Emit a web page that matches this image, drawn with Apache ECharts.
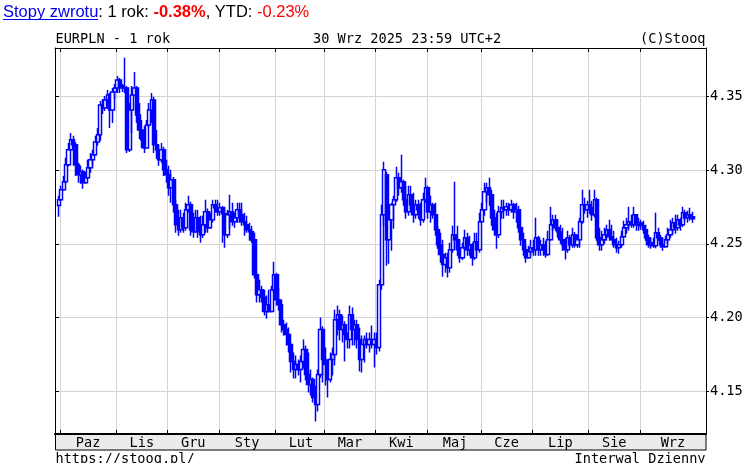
<!DOCTYPE html>
<html><head><meta charset="utf-8">
<script src="https://cdn.jsdelivr.net/npm/echarts@6/dist/echarts.min.js"></script>
<style>html,body{margin:0;padding:0;background:#fff}#c{width:742px;height:463px}</style>
</head><body><div id="c"></div>
<script>
const monthNames = ['Sty','Lut','Mar','Kwi','Maj','Cze','Lip','Sie','Wrz','Paz','Lis','Gru'];
const yTicks = [4.15, 4.20, 4.25, 4.30, 4.35];
const holidays = ['2024-12-25', '2025-04-18'];

const opens = [
4.2760,4.2800,4.2867,4.2922,4.3037,4.3139,4.3207,4.3173,4.3037,4.2969,
4.2990,4.2915,4.2949,4.3017,4.3071,4.3105,4.3193,4.3241,4.3444,4.3424,
4.3478,4.3512,4.3410,4.3532,4.3559,4.3614,4.3573,4.3559,4.3559,4.3139,
4.3410,4.3512,4.3559,4.3376,4.3274,4.3207,4.3152,4.3308,4.3410,4.3478,
4.3173,4.3139,4.3071,4.3139,4.3003,4.2969,4.2881,4.2935,4.2766,4.2630,
4.2596,4.2678,4.2610,4.2732,4.2766,4.2596,4.2583,4.2678,4.2583,4.2562,
4.2630,4.2718,4.2610,4.2664,4.2766,4.2745,4.2718,4.2745,4.2705,4.2562,
4.2698,4.2718,4.2651,4.2678,4.2732,4.2698,4.2651,4.2630,4.2596,4.2583,
4.2528,4.2291,4.2155,4.2189,4.2135,4.2040,4.2087,4.2040,4.2189,4.2291,
4.2121,4.2087,4.1951,4.1918,4.1884,4.1816,4.1700,4.1646,4.1680,4.1646,
4.1700,4.1782,4.1612,4.1544,4.1578,4.1456,4.1409,4.1612,4.1918,4.1714,
4.1680,4.1578,4.1714,4.1748,4.1985,4.2019,4.1918,4.1951,4.1884,4.1850,
4.2019,4.1918,4.1951,4.1850,4.1714,4.1816,4.1850,4.1816,4.1850,4.1816,
4.1850,4.1795,4.2223,4.2698,4.2969,4.2528,4.2664,4.2766,4.2800,4.2949,
4.2881,4.2922,4.2800,4.2718,4.2834,4.2766,4.2698,4.2766,4.2732,4.2664,
4.2800,4.2881,4.2718,4.2766,4.2698,4.2596,4.2494,4.2427,4.2359,4.2406,
4.2338,4.2460,4.2562,4.2528,4.2460,4.2406,4.2474,4.2542,4.2460,4.2494,
4.2406,4.2515,4.2460,4.2651,4.2732,4.2854,4.2881,4.2834,4.2678,4.2596,
4.2562,4.2718,4.2745,4.2732,4.2752,4.2732,4.2766,4.2718,4.2732,4.2610,
4.2528,4.2460,4.2406,4.2447,4.2474,4.2460,4.2542,4.2460,4.2494,4.2460,
4.2427,4.2528,4.2630,4.2664,4.2610,4.2583,4.2528,4.2494,4.2460,4.2542,
4.2494,4.2562,4.2494,4.2528,4.2651,4.2766,4.2732,4.2766,4.2745,4.2698,
4.2800,4.2542,4.2494,4.2528,4.2562,4.2596,4.2549,4.2528,4.2494,4.2474,
4.2494,4.2549,4.2610,4.2630,4.2651,4.2630,4.2698,4.2630,4.2644,4.2623,
4.2596,4.2542,4.2494,4.2508,4.2488,4.2576,4.2542,4.2494,4.2481,4.2528,
4.2562,4.2596,4.2644,4.2610,4.2664,4.2630,4.2711,4.2678,4.2698,4.2684
];
const closes = [
4.2800,4.2867,4.2922,4.3037,4.3139,4.3207,4.3173,4.3037,4.2969,4.2990,
4.2915,4.2949,4.3017,4.3071,4.3105,4.3193,4.3241,4.3444,4.3424,4.3478,
4.3512,4.3410,4.3532,4.3559,4.3614,4.3573,4.3559,4.3559,4.3139,4.3410,
4.3512,4.3559,4.3376,4.3274,4.3207,4.3152,4.3308,4.3410,4.3478,4.3173,
4.3139,4.3071,4.3139,4.3003,4.2969,4.2881,4.2935,4.2766,4.2630,4.2596,
4.2678,4.2610,4.2732,4.2766,4.2596,4.2583,4.2678,4.2583,4.2562,4.2630,
4.2718,4.2610,4.2664,4.2766,4.2745,4.2718,4.2745,4.2705,4.2562,4.2698,
4.2718,4.2651,4.2678,4.2732,4.2698,4.2651,4.2630,4.2596,4.2583,4.2528,
4.2291,4.2155,4.2189,4.2135,4.2040,4.2087,4.2040,4.2189,4.2291,4.2121,
4.2087,4.1951,4.1918,4.1884,4.1816,4.1700,4.1646,4.1680,4.1646,4.1700,
4.1782,4.1612,4.1544,4.1578,4.1456,4.1409,4.1612,4.1918,4.1714,4.1680,
4.1578,4.1714,4.1748,4.1985,4.2019,4.1918,4.1951,4.1884,4.1850,4.2019,
4.1918,4.1951,4.1850,4.1714,4.1816,4.1850,4.1816,4.1850,4.1816,4.1850,
4.1795,4.2223,4.2698,4.3003,4.2528,4.2664,4.2766,4.2800,4.2949,4.2881,
4.2922,4.2800,4.2718,4.2834,4.2766,4.2698,4.2766,4.2732,4.2664,4.2800,
4.2881,4.2718,4.2766,4.2698,4.2596,4.2494,4.2427,4.2359,4.2406,4.2338,
4.2460,4.2562,4.2528,4.2460,4.2406,4.2474,4.2542,4.2460,4.2494,4.2406,
4.2515,4.2460,4.2651,4.2732,4.2854,4.2881,4.2834,4.2678,4.2596,4.2562,
4.2718,4.2745,4.2732,4.2752,4.2732,4.2766,4.2718,4.2732,4.2610,4.2528,
4.2460,4.2406,4.2447,4.2474,4.2460,4.2542,4.2460,4.2494,4.2460,4.2427,
4.2528,4.2630,4.2664,4.2610,4.2583,4.2528,4.2494,4.2460,4.2542,4.2494,
4.2562,4.2494,4.2528,4.2651,4.2766,4.2732,4.2766,4.2745,4.2698,4.2800,
4.2542,4.2494,4.2528,4.2562,4.2596,4.2549,4.2528,4.2494,4.2474,4.2494,
4.2549,4.2610,4.2630,4.2651,4.2630,4.2698,4.2630,4.2644,4.2623,4.2596,
4.2542,4.2494,4.2508,4.2488,4.2576,4.2542,4.2494,4.2481,4.2528,4.2562,
4.2596,4.2644,4.2610,4.2664,4.2630,4.2711,4.2678,4.2698,4.2684,4.2671
];
const highs = [
4.2827,4.2895,4.2962,4.3085,4.3186,4.3254,4.3234,4.3190,4.3051,4.3030,
4.3005,4.2990,4.3071,4.3118,4.3139,4.3234,4.3288,4.3471,4.3485,4.3505,
4.3546,4.3525,4.3559,4.3586,4.3641,4.3627,4.3586,4.3765,4.3573,4.3458,
4.3573,4.3668,4.3573,4.3458,4.3342,4.3302,4.3342,4.3458,4.3525,4.3500,
4.3274,4.3166,4.3186,4.3160,4.3071,4.3030,4.3003,4.2955,4.2800,4.2732,
4.2732,4.2711,4.2779,4.2827,4.2786,4.2711,4.2732,4.2732,4.2691,4.2691,
4.2800,4.2740,4.2711,4.2800,4.2800,4.2800,4.2779,4.2759,4.2752,4.2732,
4.2834,4.2779,4.2711,4.2779,4.2779,4.2779,4.2711,4.2691,4.2644,4.2623,
4.2576,4.2310,4.2257,4.2216,4.2189,4.2149,4.2189,4.2216,4.2379,4.2304,
4.2203,4.2121,4.1985,4.1965,4.1931,4.1829,4.1761,4.1741,4.1714,4.1741,
4.1850,4.1809,4.1761,4.1646,4.1592,4.1538,4.1646,4.1999,4.1940,4.1795,
4.1714,4.1761,4.1795,4.2053,4.2081,4.2053,4.2013,4.1975,4.1897,4.2081,
4.2067,4.1985,4.1985,4.1931,4.1877,4.1877,4.1897,4.1897,4.1945,4.1897,
4.1897,4.2257,4.2766,4.3058,4.2990,4.2732,4.2779,4.2827,4.3024,4.2983,
4.3105,4.2935,4.2895,4.2895,4.2895,4.2847,4.2800,4.2800,4.2779,4.2847,
4.2949,4.2895,4.2827,4.2779,4.2779,4.2623,4.2576,4.2528,4.2440,4.2440,
4.2508,4.2623,4.2922,4.2623,4.2528,4.2508,4.2596,4.2576,4.2556,4.2508,
4.2576,4.2576,4.2711,4.2779,4.2915,4.2915,4.2949,4.2867,4.2732,4.2711,
4.2759,4.2800,4.2800,4.2779,4.2779,4.2800,4.2779,4.2779,4.2759,4.2623,
4.2576,4.2488,4.2488,4.2528,4.2528,4.2678,4.2556,4.2528,4.2542,4.2522,
4.2590,4.2752,4.2698,4.2698,4.2657,4.2630,4.2610,4.2542,4.2590,4.2560,
4.2610,4.2580,4.2562,4.2678,4.2867,4.2813,4.2793,4.2867,4.2793,4.2867,
4.2813,4.2610,4.2590,4.2610,4.2630,4.2664,4.2630,4.2590,4.2542,4.2522,
4.2590,4.2657,4.2678,4.2752,4.2698,4.2752,4.2678,4.2678,4.2664,4.2657,
4.2630,4.2562,4.2542,4.2542,4.2711,4.2610,4.2562,4.2542,4.2556,4.2610,
4.2664,4.2678,4.2698,4.2698,4.2678,4.2752,4.2732,4.2725,4.2745,4.2718
];
const lows = [
4.2684,4.2790,4.2861,4.2910,4.3025,4.3132,4.3030,4.2962,4.2915,4.2908,
4.2874,4.2908,4.2942,4.2983,4.3030,4.3098,4.3166,4.3200,4.3383,4.3403,
4.3417,4.3288,4.3322,4.3485,4.3525,4.3525,4.3532,4.3525,4.3118,4.3125,
4.3254,4.3505,4.3322,4.3213,4.3152,4.3118,4.3146,4.3290,4.3322,4.3118,
4.3078,4.3030,4.3051,4.2962,4.2915,4.2827,4.2779,4.2711,4.2576,4.2556,
4.2575,4.2576,4.2590,4.2711,4.2556,4.2542,4.2576,4.2542,4.2508,4.2540,
4.2576,4.2576,4.2603,4.2645,4.2711,4.2691,4.2691,4.2508,4.2474,4.2540,
4.2603,4.2623,4.2610,4.2644,4.2644,4.2623,4.2556,4.2576,4.2522,4.2508,
4.2264,4.2101,4.2101,4.2101,4.2013,4.1992,4.2033,4.2033,4.2169,4.2081,
4.2047,4.1897,4.1877,4.1809,4.1761,4.1626,4.1585,4.1585,4.1605,4.1558,
4.1653,4.1572,4.1490,4.1470,4.1422,4.1293,4.1361,4.1590,4.1558,4.1538,
4.1456,4.1558,4.1605,4.1673,4.1877,4.1843,4.1829,4.1700,4.1789,4.1789,
4.1809,4.1809,4.1789,4.1632,4.1626,4.1694,4.1789,4.1761,4.1789,4.1660,
4.1748,4.1768,4.2189,4.2623,4.2352,4.2365,4.2454,4.2603,4.2785,4.2827,
4.2847,4.2759,4.2671,4.2691,4.2725,4.2644,4.2671,4.2671,4.2623,4.2644,
4.2779,4.2671,4.2644,4.2671,4.2556,4.2467,4.2372,4.2277,4.2304,4.2271,
4.2304,4.2440,4.2467,4.2420,4.2372,4.2390,4.2455,4.2420,4.2420,4.2352,
4.2390,4.2420,4.2440,4.2644,4.2691,4.2779,4.2759,4.2623,4.2556,4.2467,
4.2540,4.2671,4.2671,4.2691,4.2691,4.2711,4.2671,4.2644,4.2576,4.2488,
4.2420,4.2372,4.2399,4.2420,4.2420,4.2420,4.2420,4.2420,4.2420,4.2406,
4.2420,4.2522,4.2590,4.2590,4.2542,4.2501,4.2454,4.2393,4.2440,4.2474,
4.2474,4.2474,4.2474,4.2474,4.2637,4.2705,4.2678,4.2705,4.2657,4.2680,
4.2522,4.2454,4.2454,4.2501,4.2522,4.2522,4.2522,4.2474,4.2440,4.2433,
4.2474,4.2542,4.2569,4.2590,4.2610,4.2610,4.2590,4.2590,4.2596,4.2569,
4.2522,4.2474,4.2467,4.2474,4.2470,4.2522,4.2474,4.2454,4.2474,4.2501,
4.2542,4.2569,4.2569,4.2590,4.2590,4.2615,4.2657,4.2644,4.2657,4.2644
];

// trading-day categories: one slot before the first bar, five empty slots after the last
const totalSlots = 266;
const categories = [];
(function () {
  const d = new Date(Date.UTC(2024, 8, 27));
  while (categories.length < totalSlots) {
    const wd = d.getUTCDay();
    const s = d.toISOString().slice(0, 10);
    if (wd !== 0 && wd !== 6 && holidays.indexOf(s) < 0) categories.push(s);
    d.setUTCDate(d.getUTCDate() + 1);
  }
})();
const rows = closes.map((c, i) => [categories[i + 1], opens[i], c, lows[i], highs[i]]);

const lastIdx = closes.length;
const monthStarts = [];
for (let k = 1; k <= lastIdx; k++) {
  if (categories[k].slice(0, 7) !== categories[k - 1].slice(0, 7)) monthStarts.push(k);
}
const startSet = new Set(monthStarts);
const labelSet = new Set(monthStarts.map((s, j) =>
  Math.floor((s + (j + 1 < monthStarts.length ? monthStarts[j + 1] : totalSlots)) / 2)));

const MONO = '"DejaVu Sans Mono", monospace';
const FS = 13.6;
const chart = echarts.init(document.getElementById('c'), null, {renderer: 'canvas'});
chart.setOption({
  animation: false,
  backgroundColor: '#ffffff',
  grid: {left: 55, right: 36, top: 48, bottom: 29, outerBoundsMode: 'none', containLabel: false},
  xAxis: [{
    type: 'category', data: categories, boundaryGap: true, position: 'bottom',
    axisLine: {show: true, onZero: false, lineStyle: {color: '#000', width: 2}},
    axisTick: {show: true, inside: true, length: 4, interval: (i) => startSet.has(i), lineStyle: {color: '#000'}},
    splitLine: {show: true, interval: (i) => startSet.has(i), lineStyle: {color: '#d4d4d4', width: 1}},
    axisLabel: {
      show: true, interval: (i) => labelSet.has(i), margin: 2,
      formatter: (v) => monthNames[parseInt(v.slice(5, 7), 10) - 1],
      color: '#000', fontFamily: MONO, fontSize: FS, lineHeight: 14
    }
  }, {
    type: 'category', data: categories, boundaryGap: true, position: 'top',
    axisLine: {show: true, onZero: false, lineStyle: {color: '#000', width: 1}},
    axisTick: {show: true, inside: true, length: 4, interval: (i) => startSet.has(i), lineStyle: {color: '#000'}},
    splitLine: {show: false}, axisLabel: {show: false}
  }],
  yAxis: [{
    type: 'value', position: 'right', min: 4.1208, max: 4.3831, scale: true,
    axisLine: {show: true, onZero: false, lineStyle: {color: '#000', width: 1}},
    axisTick: {show: true, inside: false, length: 3, customValues: yTicks, lineStyle: {color: '#000'}},
    splitLine: {show: true, lineStyle: {color: '#d4d4d4', width: 1}},
    axisLabel: {show: true, customValues: yTicks, margin: 4, formatter: (v) => v.toFixed(2),
      color: '#000', fontFamily: MONO, fontSize: FS}
  }, {
    type: 'value', position: 'left', min: 4.1208, max: 4.3831, scale: true,
    axisLine: {show: true, onZero: false, lineStyle: {color: '#000', width: 1}},
    axisTick: {show: true, inside: true, length: 4, customValues: yTicks, lineStyle: {color: '#000'}},
    splitLine: {show: false}, axisLabel: {show: false}
  }],
  graphic: [
    {type: 'rect', z: -1, shape: {x: 55.5, y: 434, width: 650.5, height: 16},
     style: {fill: '#ebebeb', stroke: '#000', lineWidth: 1}},
    {type: 'text', x: 3, y: 12, style: {
      text: '{a|Stopy zwrotu}{b|: 1 rok: }{c|-0.38%}{b|, YTD: }{d|-0.23%}',
      align: 'left', verticalAlign: 'middle', textAlign: 'left', textVerticalAlign: 'middle',
      rich: {
        a: {fill: '#0000ee', fontFamily: '"Liberation Sans", Arial', fontSize: 16.5},
        b: {fill: '#000000', fontFamily: '"Liberation Sans", Arial', fontSize: 16.5},
        c: {fill: '#ff0000', fontFamily: '"Liberation Sans", Arial', fontSize: 16.5, fontWeight: 'bold'},
        d: {fill: '#ff0000', fontFamily: '"Liberation Sans", Arial', fontSize: 16.5}
      }}},
    {type: 'line', shape: {x1: 3, y1: 19.5, x2: 98, y2: 19.5}, style: {stroke: '#0000ee', lineWidth: 1}},
    {type: 'text', x: 55.5, y: 39, style: {text: 'EURPLN - 1 rok', fill: '#000', font: FS + 'px ' + MONO,
      align: 'left', verticalAlign: 'middle', textAlign: 'left', textVerticalAlign: 'middle'}},
    {type: 'text', x: 313, y: 39, style: {text: '30 Wrz 2025 23:59 UTC+2', fill: '#000', font: FS + 'px ' + MONO,
      align: 'left', verticalAlign: 'middle', textAlign: 'left', textVerticalAlign: 'middle'}},
    {type: 'text', x: 705.5, y: 39, style: {text: '(C)Stooq', fill: '#000', font: FS + 'px ' + MONO,
      align: 'right', verticalAlign: 'middle', textAlign: 'right', textVerticalAlign: 'middle'}},
    {type: 'text', x: 55.5, y: 459, style: {text: 'https://stooq.pl/', fill: '#000', font: FS + 'px ' + MONO,
      align: 'left', verticalAlign: 'middle', textAlign: 'left', textVerticalAlign: 'middle'}},
    {type: 'text', x: 705.5, y: 459, style: {text: 'Interwal Dzienny', fill: '#000', font: FS + 'px ' + MONO,
      align: 'right', verticalAlign: 'middle', textAlign: 'right', textVerticalAlign: 'middle'}}
  ],
  series: [{
    type: 'candlestick', xAxisIndex: 0, yAxisIndex: 0,
    dimensions: ['date', 'open', 'close', 'lowest', 'highest'],
    encode: {x: 'date', y: ['open', 'close', 'lowest', 'highest']},
    data: rows, barWidth: 3.6,
    itemStyle: {color: '#ffffff', color0: '#0000ff', borderColor: '#0000ff', borderColor0: '#0000ff', borderWidth: 1.5},
    emphasis: {disabled: true}
  }]
});
</script>
</body></html>
